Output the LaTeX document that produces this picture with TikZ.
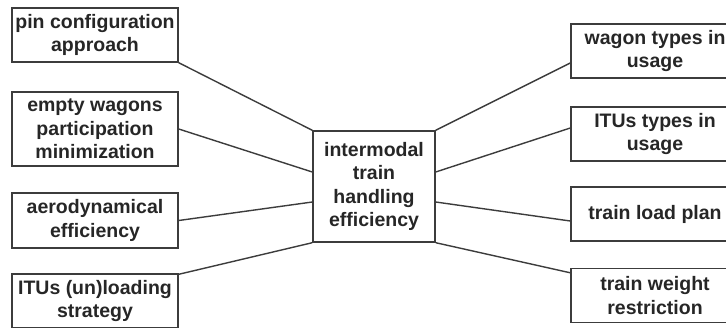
\documentclass[tikz,border=0pt]{standalone}
\usepackage{fontspec}
\setmainfont{Liberation Sans}
\usepackage{tikz}
\usetikzlibrary{positioning,calc}
\definecolor{boxgray}{HTML}{3C3C3C}
\definecolor{txtgray}{HTML}{262626}
\begin{document}
\begin{tikzpicture}[x=1pt,y=-1pt,
mybox/.style={draw=boxgray, line width=1.4pt, fill=white, align=center, inner sep=0pt,
text=txtgray, font=\fontsize{19.5}{23.3}\selectfont\bfseries},
myline/.style={draw=boxgray, line width=1.4pt}]
\useasboundingbox (0,0) rectangle (726,327);
\clip (0,0) rectangle (726,327);
\fill[white] (0,0) rectangle (726,327);
% left column
\node[mybox, minimum width=166pt, minimum height=54pt] (L0) at (95,35) {pin configuration\\approach};
\node[mybox, minimum width=166pt, minimum height=74pt] (L1) at (95,129) {empty wagons\\participation\\minimization};
\node[mybox, minimum width=166pt, minimum height=55pt] (L2) at (95,220.5) {aerodynamical\\efficiency};
\node[mybox, minimum width=166pt, minimum height=54pt] (L3) at (95,301) {ITUs (un)loading\\strategy};
% centre
\node[mybox, minimum width=122pt, minimum height=111pt] (C0) at (374,186.5) {intermodal\\train\\handling\\efficiency};
% right column
\node[mybox, minimum width=168pt, minimum height=54pt] (R0) at (655,51) {wagon types in\\usage};
\node[mybox, minimum width=168pt, minimum height=54pt] (R1) at (655,134) {ITUs types in\\usage};
\node[mybox, minimum width=168pt, minimum height=54pt] (R2) at (655,214) {train load plan};
\node[mybox, minimum width=168pt, minimum height=54pt] (R3) at (655,295.5) {train weight\\restriction};
% connectors
\draw[myline] (L0.south east) -- (C0.north west);
\draw[myline] (L1.east) -- ([yshift=14.5pt]C0.west);
\draw[myline] (L2.east) -- ([yshift=-15.5pt]C0.west);
\draw[myline] ([yshift=-1pt]L3.north east) -- (C0.south west);
\draw[myline] ([yshift=-12pt]R0.west) -- (C0.north east);
\draw[myline] ([yshift=6pt]R1.west) -- ([yshift=14.5pt]C0.east);
\draw[myline] ([yshift=-7pt]R2.west) -- ([yshift=-15.5pt]C0.east);
\draw[myline] ([yshift=-5pt]R3.north west) -- (C0.south east);
\end{tikzpicture}
\end{document}
